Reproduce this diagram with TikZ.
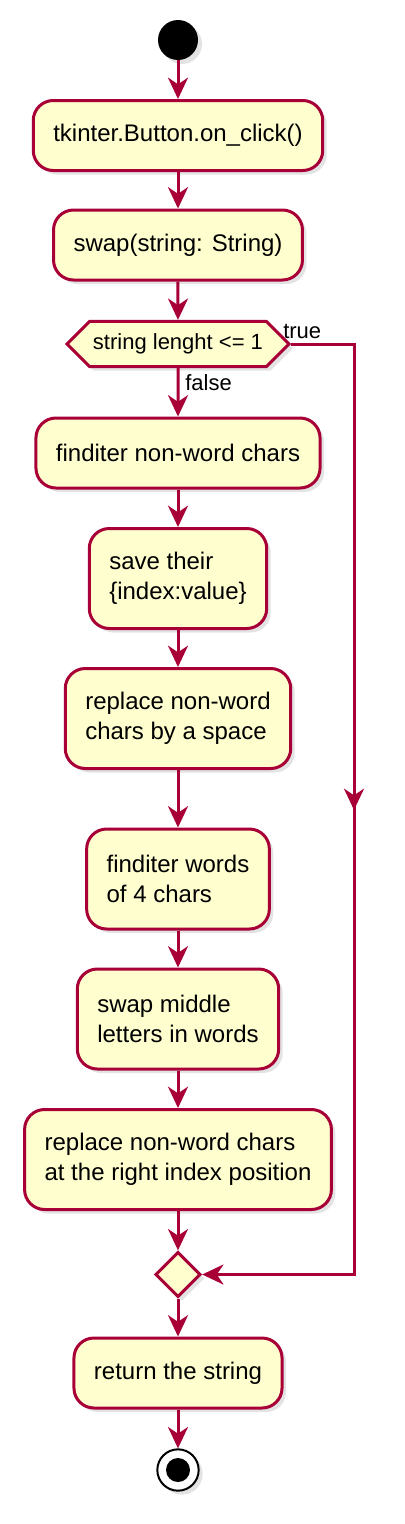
\documentclass[tikz,border=0pt]{standalone}
\usepackage{fontspec}
\setmainfont{Liberation Sans}
\usetikzlibrary{arrows.meta,shapes.geometric,shapes.symbols,shadows}
\definecolor{umlred}{HTML}{A80036}
\definecolor{umlfill}{HTML}{FEFECE}
\begin{document}
\begin{tikzpicture} [x=0.75pt,y=-0.75pt,
  shade/.style={drop shadow={shadow xshift=3pt,shadow yshift=-3pt,opacity=0.22}},
  act/.style={draw=umlred,fill=umlfill,line width=2.25pt,rounded corners=15pt,inner xsep=15pt,
    minimum height=52.5pt,align=left,font=\fontsize{18}{22.5}\selectfont,shade},
  twoline/.style={minimum height=75pt},
  test/.style={signal,signal to=east and west,signal pointer angle=90,draw=umlred,fill=umlfill,
    line width=2.25pt,inner xsep=2.5pt,minimum height=34pt,font=\fontsize{16.5}{20}\selectfont,shade},
  merge/.style={diamond,aspect=1,draw=umlred,fill=umlfill,line width=2.25pt,inner sep=0pt,
    minimum size=34pt,shade},
  lbl/.style={font=\fontsize{16.5}{20}\selectfont,inner sep=0pt},
  flow/.style={draw=umlred,line width=2.25pt,-{Stealth[length=16pt,width=15pt,inset=5pt]}},
  line/.style={draw=umlred,line width=2.25pt}]
\useasboundingbox (0,0) rectangle (404,1524);
\node[circle,fill=black,minimum size=30pt,inner sep=0pt,shade] (start) at (178,40) {};
\node[act] (click) at (178,135.5) {tkinter.Button.on\_click()};
\node[act] (swapfn) at (178,245) {swap(string: String)};
\node[test] (len) at (178,344) {string lenght <= 1};
\node[act] (findchars) at (178,453) {finditer non-word chars};
\node[act,twoline] (save) at (178,578.5) {save their\\\{index:value\}};
\node[act,twoline] (space) at (178,718.5) {replace non-word\\chars by a space};
\node[act,twoline] (findwords) at (178,879) {finditer words\\of 4 chars};
\node[act,twoline] (middle) at (178,1019) {swap middle\\letters in words};
\node[act,twoline] (restore) at (178,1159.5) {replace non-word chars\\at the right index position};
\node[merge] (join) at (178,1274.5) {};
\node[act] (ret) at (178,1373) {return the string};
\node[circle,draw=black,fill=white,line width=1.5pt,minimum size=31pt,inner sep=0pt,shade] (stop) at (178,1470) {};
\fill (stop) circle (9pt);
\node[lbl,anchor=base west] (truelbl) at (283,338) {true};
\node[lbl,anchor=base west] (falselbl) at (185,390) {false};
\coordinate (turn1) at (354,344);
\coordinate (mid) at (354,810);
\coordinate (turn2) at (354,1274.5);
\foreach \a/\b in {start/click,click/swapfn,swapfn/len,len/findchars,findchars/save,save/space,
  space/findwords,findwords/middle,middle/restore,restore/join,join/ret,ret/stop}
  \draw[flow] (\a) -- (\b);
\draw[flow] (turn1) -- (turn2) -- (join.east);
\draw[flow] (len.east) -- (turn1) -- (mid);
\end{tikzpicture}
\end{document}
